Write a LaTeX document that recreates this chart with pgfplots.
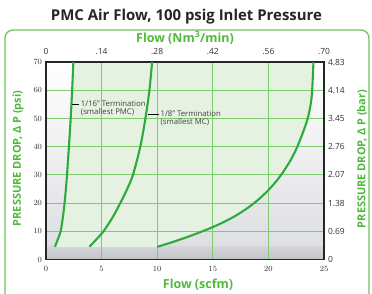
\documentclass[border=0pt]{standalone}
\usepackage{fontspec}
\setmainfont{Open Sans}
\usepackage{pgfplots}
\pgfplotsset{compat=1.18}
\definecolor{curvec}{RGB}{45,170,60}
\definecolor{gridc}{RGB}{125,205,110}
\definecolor{framec}{RGB}{110,195,90}
\definecolor{labc}{RGB}{80,185,60}
\definecolor{fillg}{RGB}{230,242,225}
\definecolor{ticktext}{RGB}{50,50,50}
\definecolor{bgtop}{RGB}{255,255,255}
\definecolor{bgmid}{RGB}{222,223,226}
\definecolor{bandtop}{RGB}{212,213,217}
\definecolor{bandbot}{RGB}{195,196,200}
\begin{document}
\begin{tikzpicture}
\path (0bp,0bp) rectangle (372bp,292bp);
\draw[overlay, framec, line width=1.3bp, rounded corners=8bp] (5bp,-20bp) rectangle (369bp,262bp);
\node[text=black!85] at (186.5bp,275bp) {\fontsize{15}{17}\selectfont\bfseries PMC Air Flow, 100 psig Inlet Pressure};
\begin{axis}[
  set layers,
  at={(46bp,32.5bp)}, anchor=south west,
  width=278bp, height=197.5bp, scale only axis,
  xmin=0, xmax=25, ymin=0, ymax=70,
  xtick={0,5,...,25}, ytick={0,10,...,70},
  grid=major, grid style={gridc, line width=1.1bp},
  axis line style={black!85, line width=1.5bp},
  major tick length=0pt,
  tick label style={font=\fontsize{8.5}{9}\selectfont, text=ticktext},
  yticklabel style={xshift=-0.5bp},
  xticklabel style={yshift=-3.5bp},
]
\pgfplotsextra{%
\begin{pgfonlayer}{axis background}
\shade[top color=bgtop, bottom color=bgmid] (axis cs:0,4.5) rectangle (axis cs:25,70);
\shade[top color=bandtop, bottom color=bandbot] (axis cs:0,0) rectangle (axis cs:25,4.5);
\end{pgfonlayer}}
\addplot[on layer=axis background, draw=none, fill=fillg] coordinates {
 (0.8,4.5) (1.05,7) (1.32,10) (1.52,15) (1.67,20) (1.79,25) (1.89,30) (2.06,40) (2.22,50) (2.35,60) (2.46,70)
 (24.05,70) (23.9,58) (23.6,51) (23.2,46) (22.6,40) (22,35.2) (21,29.2) (20,24.6) (19,20.9) (18,17.9) (17,15.4) (16,13.3) (15,11.5) (14,9.9) (13,8.4) (12,7.0) (11,5.7) (10,4.5)
};
\addplot[curvec, line width=2.1bp, smooth] coordinates {
 (0.8,4.5) (1.05,7) (1.32,10) (1.52,15) (1.67,20) (1.79,25) (1.89,30) (2.06,40) (2.22,50) (2.35,60) (2.46,70)
};
\addplot[curvec, line width=2.1bp, smooth] coordinates {
 (3.9,4.5) (4.5,7.0) (5.17,10) (6.0,15) (6.68,20) (7.3,25) (7.82,30) (8.48,40) (8.94,50) (9.3,60) (9.54,70)
};
\addplot[curvec, line width=2.1bp, smooth] coordinates {
 (10,4.5) (11,5.7) (12,7.0) (13,8.4) (14,9.9) (15,11.5) (16,13.3) (17,15.4) (18,17.9) (19,20.9) (20,24.6) (21,29.2) (22,35.2) (22.6,40) (23.2,46) (23.6,51) (23.9,58) (24.05,70)
};
\draw[black, line width=0.8bp] (axis cs:2.31,55.1) -- (axis cs:3.0,55.1)
  node[anchor=west, align=left, yshift=-3.9bp, inner sep=1.2bp, font=\fontsize{7.8}{7.9}\selectfont, text=black!75] {1/16" Termination\\(smallest PMC)};
\draw[black, line width=0.8bp] (axis cs:9.17,51.5) -- (axis cs:10.16,51.5)
  node[anchor=west, align=left, yshift=-3.9bp, inner sep=1.2bp, font=\fontsize{7.8}{7.9}\selectfont, text=black!75] {1/8" Termination\\(smallest MC)};
\end{axis}
\begin{axis}[
  at={(46bp,32.5bp)}, anchor=south west,
  width=278bp, height=197.5bp, scale only axis,
  xmin=0, xmax=25, ymin=0, ymax=70,
  axis x line*=top, axis y line*=right,
  axis line style={draw=none},
  xtick={0,5,...,25}, xticklabels={0,.14,.28,.42,.56,.70},
  ytick={0,10,...,70}, yticklabels={0,0.69,1.38,2.07,2.76,3.45,4.14,4.83},
  major tick length=0pt,
  tick label style={font=\fontsize{8.5}{9}\selectfont, text=ticktext},
  yticklabel style={xshift=0.5bp},
  xticklabel style={yshift=4bp},
]
\addplot[draw=none] coordinates {(0,0) (25,70)};
\end{axis}
\node[text=labc] at (185bp,254bp) {\fontsize{12.5}{14}\selectfont\bfseries Flow (Nm\textsuperscript{3}/min)};
\node[text=labc] at (198bp,7.5bp) {\fontsize{12.5}{14}\selectfont\bfseries Flow (scfm)};
\node[text=labc, rotate=90] at (18bp,133.5bp) {\fontsize{11}{13}\selectfont\bfseries PRESSURE DROP, Δ P (psi)};
\node[text=labc, rotate=90] at (362bp,133bp) {\fontsize{11}{13}\selectfont\bfseries PRESSURE DROP, Δ P (bar)};
\end{tikzpicture}
\end{document}
